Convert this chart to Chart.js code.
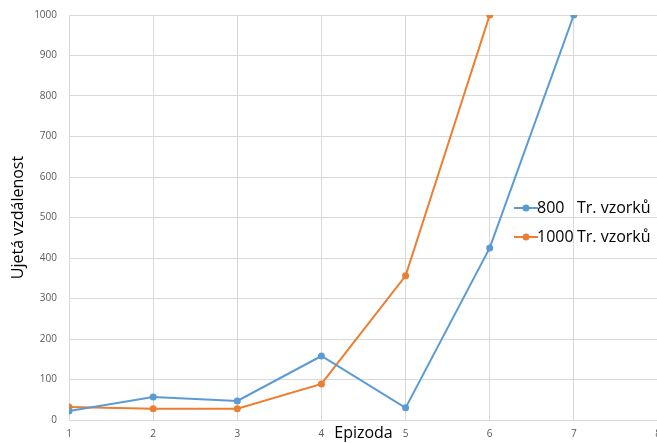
<!DOCTYPE html>
<html>
<head>
<meta charset="utf-8">
<script src="https://cdn.jsdelivr.net/npm/chart.js@4/dist/chart.umd.min.js"></script>
<style>
html,body{margin:0;padding:0;overflow:hidden;background:#fff;width:657px;height:443px;}
#wrap{width:662px;height:443px;}
</style>
</head>
<body>
<div id="wrap"><canvas id="c" width="662" height="443"></canvas></div>
<script>
const episodes = [1, 2, 3, 4, 5, 6, 7];
const series800 = [22, 57, 47, 158, 30, 425, 1000];
const series1000 = [32, 28, 28, 89, 356, 1000];
const seriesCounts = ["800", "1000"];
const seriesSuffix = "Tr. vzorků";
const xTitle = "Epizoda";
const yTitle = "Ujetá vzdálenost";

const blue = "#5B9BD5";
const orange = "#ED7D31";
const FONT = "'Open Sans', 'Noto Sans', sans-serif";

function pts(vals){ return vals.map((v,i)=>({x: episodes[i], y: v})); }

const legendPlugin = {
  id: 'overlayLegend',
  afterDraw(chart){
    const ctx = chart.ctx;
    ctx.save();
    const rows = [{y:208}, {y:237}];
    chart.data.datasets.forEach((ds, i) => {
      const y = rows[i].y;
      ctx.strokeStyle = ds.borderColor;
      ctx.lineWidth = 2;
      ctx.beginPath(); ctx.moveTo(514, y); ctx.lineTo(538, y); ctx.stroke();
      ctx.fillStyle = ds.borderColor;
      ctx.beginPath(); ctx.arc(526, y, 3.5, 0, Math.PI*2); ctx.fill();
      ctx.fillStyle = '#000';
      ctx.font = "16px " + FONT;
      ctx.textBaseline = 'middle';
      ctx.textAlign = 'left';
      ctx.fillText(seriesCounts[i], 537, y);
      ctx.fillText(seriesSuffix, 577, y);
    });
    ctx.restore();
  }
};

new Chart(document.getElementById('c'), {
  type: 'line',
  data: {
    datasets: [
      { label: seriesCounts[0] + " " + seriesSuffix, data: pts(series800), borderColor: blue, backgroundColor: blue,
        borderWidth: 2, pointRadius: 3.5, pointBackgroundColor: blue, pointBorderWidth: 0, tension: 0 },
      { label: seriesCounts[1] + " " + seriesSuffix, data: pts(series1000), borderColor: orange, backgroundColor: orange,
        borderWidth: 2, pointRadius: 3.5, pointBackgroundColor: orange, pointBorderWidth: 0, tension: 0 }
    ]
  },
  options: {
    responsive: false,
    animation: false,
    layout: { padding: { top: 15, right: 4, left: 0, bottom: 0 } },
    plugins: { legend: { display: false }, tooltip: { enabled: false } },
    scales: {
      x: {
        type: 'linear', min: 1, max: 8,
        ticks: { stepSize: 1, color: '#595959', font: { size: 10, family: FONT }, padding: 8, maxRotation: 0,
                 callback: v => String(v) },
        grid: { color: '#d9d9d9', drawTicks: false },
        border: { color: '#d9d9d9' },
        title: { display: true, text: xTitle, color: '#000', font: { size: 16, family: FONT }, padding: 0 },
        afterFit(s){ s.height = 23; s.paddingLeft = 0; s.paddingRight = 0; }
      },
      y: {
        min: 0, max: 1000,
        ticks: { stepSize: 100, color: '#595959', font: { size: 10, family: FONT }, padding: 12,
                 callback: v => String(v) },
        grid: { color: '#d9d9d9', drawTicks: false },
        border: { color: '#d9d9d9' },
        title: { display: true, text: yTitle, color: '#000', font: { size: 16, family: FONT }, padding: { top: 9, bottom: 0 } },
        afterFit(s){ s.width = 69; s.paddingTop = 0; s.paddingBottom = 0; }
      }
    }
  },
  plugins: [legendPlugin]
});
</script>
</body>
</html>
